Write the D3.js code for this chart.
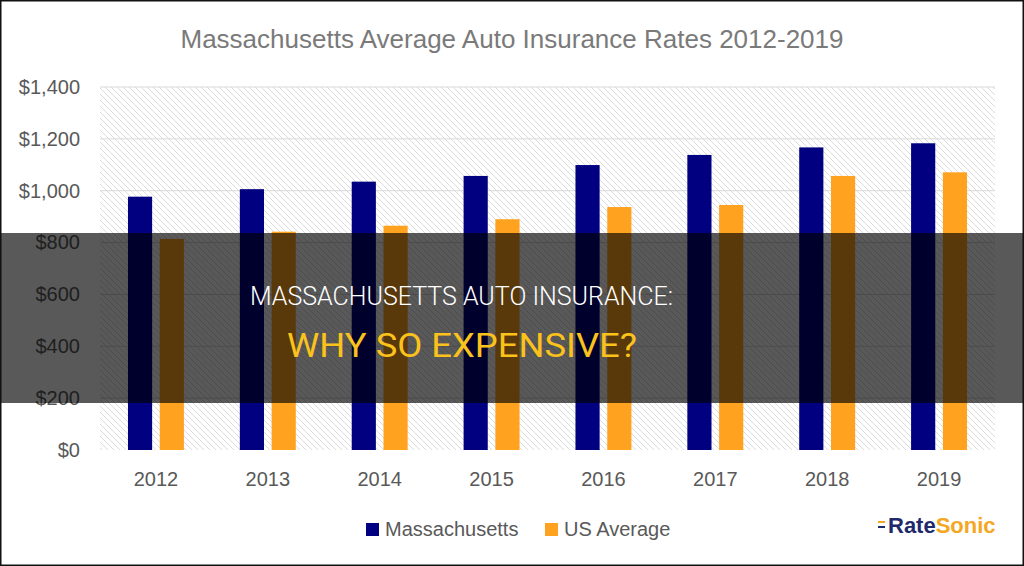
<!DOCTYPE html>
<html><head><meta charset="utf-8">
<script src="https://cdn.jsdelivr.net/npm/d3@7"></script>
<style>html,body{margin:0;padding:0;background:#fff;overflow:hidden}</style>
</head><body>
<svg id="c" width="1024" height="566"></svg>
<script>
const years = ["2012","2013","2014","2015","2016","2017","2018","2019"];
const massachusetts = [977, 1006, 1035, 1057, 1099, 1138, 1167, 1183];
const usAverage = [814, 842, 865, 890, 937, 945, 1057, 1071];
const seriesNames = ["Massachusetts", "US Average"];
const seriesColors = ["#000080", "#FFA21F"];
const yTicks = [0, 200, 400, 600, 800, 1000, 1200, 1400];
const chartTitle = "Massachusetts Average Auto Insurance Rates 2012-2019";
const bannerLine1 = "MASSACHUSETTS AUTO INSURANCE:";
const bannerLine2 = "WHY SO EXPENSIVE?";

const svg = d3.select("#c");
const W = 1024, H = 566;
const m = {l:100, r:29, t:87, b:116};
const defs = svg.append("defs");
const P = 6;
const pat = defs.append("pattern").attr("id","hatch").attr("patternUnits","userSpaceOnUse")
  .attr("width",P).attr("height",P);
pat.append("rect").attr("width",P).attr("height",P).attr("fill","#fff");
pat.append("path").attr("d",`M0,0 L${P},${P} M-1,${P-1} L1,${P+1} M${P-1},-1 L${P+1},1`).attr("stroke","#dcdcdc").attr("stroke-width",1);

svg.append("rect").attr("width",W).attr("height",H).attr("fill","#fff");

const x0 = d3.scaleBand().domain(years).range([m.l, W-m.r]).paddingInner(0.5).paddingOuter(0.25);
const x1 = d3.scaleBand().domain(seriesNames).range([0, x0.bandwidth()]).paddingInner(0.24);
const y = d3.scaleLinear().domain([0,1400]).range([H-m.b, m.t]);

// plot area hatch
svg.append("rect").attr("x",m.l).attr("y",m.t).attr("width",W-m.r-m.l).attr("height",H-m.b-m.t).attr("fill","url(#hatch)");

// gridlines
svg.append("g").selectAll("line").data(yTicks.filter(d=>d>0)).join("line")
  .attr("x1",m.l).attr("x2",W-m.r).attr("y1",d=>y(d)).attr("y2",d=>y(d))
  .attr("stroke","#d9d9d9").attr("stroke-width",1);

// y axis
const yAxis = d3.axisLeft(y).tickValues(yTicks).tickSize(0).tickPadding(20)
  .tickFormat(d=>"$"+d3.format(",")(d));
const gy = svg.append("g").attr("transform",`translate(${m.l},0)`).call(yAxis);
gy.select(".domain").remove();
gy.selectAll("text").attr("font-family","Liberation Sans, Arial, sans-serif").attr("font-size",20).attr("fill","#595959");

// x axis
const xAxis = d3.axisBottom(x0).tickSize(0).tickPadding(22);
const gx = svg.append("g").attr("transform",`translate(0,${H-m.b})`).call(xAxis);
gx.select(".domain").remove();
gx.selectAll("text").attr("font-family","Liberation Sans, Arial, sans-serif").attr("font-size",20).attr("fill","#595959");

// bars
const data = years.map((yr,i)=>({year:yr, vals:[massachusetts[i], usAverage[i]]}));
const groups = svg.append("g").selectAll("g").data(data).join("g")
  .attr("transform",d=>`translate(${x0(d.year)},0)`);
groups.selectAll("rect").data(d=>d.vals.map((v,j)=>({v, s:seriesNames[j], c:seriesColors[j]}))).join("rect")
  .attr("x",d=>x1(d.s)).attr("width",x1.bandwidth())
  .attr("y",d=>y(d.v)).attr("height",d=>y(0)-y(d.v)).attr("fill",d=>d.c);

// title
svg.append("text").attr("x",W/2).attr("y",48).attr("text-anchor","middle")
  .attr("font-family","Liberation Sans, Arial, sans-serif").attr("font-size",25)
  .attr("fill","#7a7a7a").attr("textLength",663).attr("lengthAdjust","spacingAndGlyphs").text(chartTitle);

// legend
const legX = [366, 545];
const leg = svg.append("g").selectAll("g").data(seriesNames).join("g")
  .attr("transform",(d,i)=>`translate(${legX[i]},523)`);
leg.append("rect").attr("width",13).attr("height",13).attr("fill",(d,i)=>seriesColors[i]);
leg.append("text").attr("x",19).attr("y",13).attr("font-family","Liberation Sans, Arial, sans-serif")
  .attr("font-size",20).attr("fill","#595959").text(d=>d);

// banner overlay
svg.append("rect").attr("x",0).attr("y",233).attr("width",W).attr("height",170).attr("fill","rgba(0,0,0,0.65)");
svg.append("text").attr("x",250).attr("y",305).attr("font-family","Roboto, sans-serif").attr("font-weight",300)
  .attr("font-size",25).attr("fill","#ffffff").attr("textLength",423).attr("lengthAdjust","spacingAndGlyphs")
  .text(bannerLine1);
svg.append("text").attr("x",287).attr("y",357).attr("font-family","Roboto, sans-serif").attr("font-weight",400)
  .attr("font-size",34).attr("fill","#FBC21B").attr("textLength",350).attr("lengthAdjust","spacingAndGlyphs")
  .text(bannerLine2);

// logo
const logo = svg.append("text").attr("x",888).attr("y",533).attr("font-family","Liberation Sans, Arial, sans-serif")
  .attr("font-weight","bold").attr("font-size",22);
logo.append("tspan").attr("fill","#1f2a6b").text("Rate");
logo.append("tspan").attr("fill","#f5a623").text("Sonic");
svg.append("rect").attr("x",878).attr("y",521).attr("width",7).attr("height",2).attr("fill","#f5a623");
svg.append("rect").attr("x",878).attr("y",526).attr("width",7).attr("height",2).attr("fill","#1f2a6b");

// frame
svg.append("rect").attr("x",0.75).attr("y",0.75).attr("width",W-1.5).attr("height",H-1.5)
  .attr("fill","none").attr("stroke","#111").attr("stroke-width",1.5);
</script>
</body></html>
